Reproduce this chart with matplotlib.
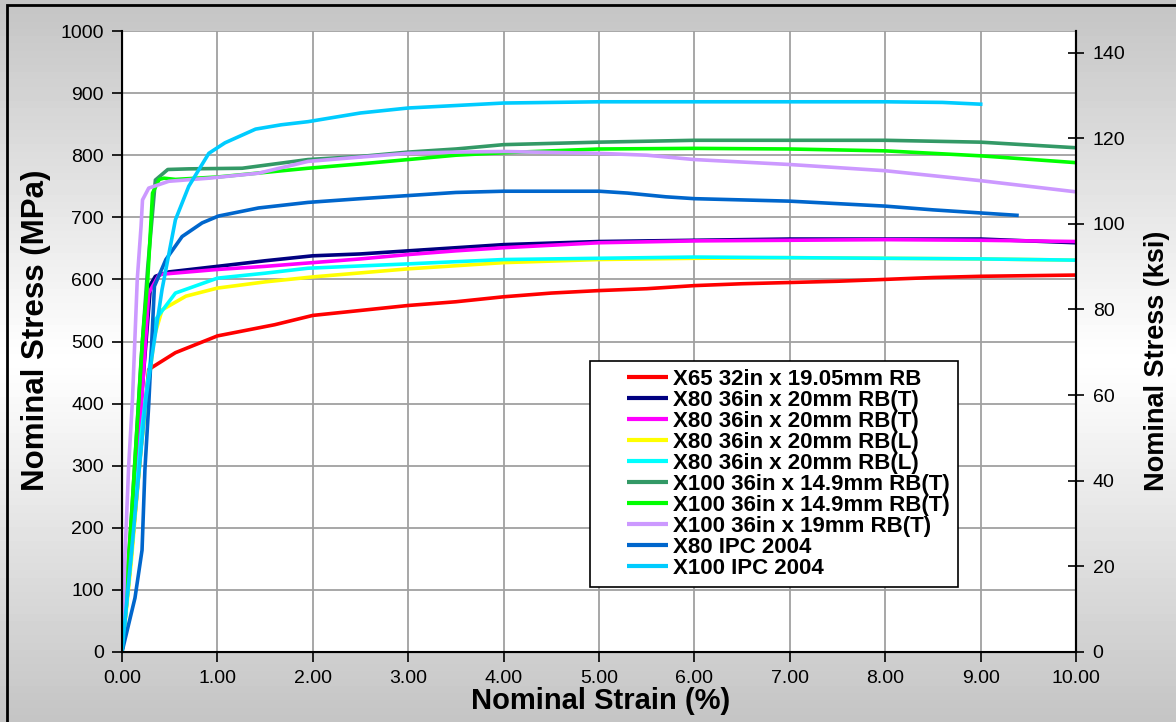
import numpy as np
import matplotlib
matplotlib.use("Agg")
from matplotlib import pyplot as plt
from matplotlib.patches import Rectangle
from matplotlib.legend_handler import HandlerLine2D

plt.rcParams["font.family"] = ["Liberation Sans", "DejaVu Sans"]

# strain (%) / stress (MPa)
x65_strain = [0, 0.1, 0.2, 0.28, 0.56, 1.0, 1.6, 2.0, 2.5, 3.0, 3.5, 4.0, 4.5, 5.0, 5.5, 6.0,
              6.5, 7.0, 7.5, 8.0, 8.5, 9.0, 9.5, 10.0]
x65_stress = [0, 160, 330, 455, 482, 509, 527, 542, 550, 558, 564, 572, 578, 582, 585, 590,
              593, 595, 597, 600, 603, 605, 606, 607]

x80t_a_strain = [0, 0.1, 0.2, 0.3, 0.35, 0.49, 1.0, 1.5, 2.0, 2.5, 3.0, 3.5, 4.0, 5.0, 6.0, 7.0,
                 8.0, 9.0, 10.0]
x80t_a_stress = [0, 180, 400, 592, 605, 612, 621, 630, 638, 641, 646, 651, 656, 661, 663, 665,
                 665, 665, 659]

x80t_b_strain = [0, 0.1, 0.2, 0.28, 0.39, 1.0, 1.5, 2.0, 2.5, 3.0, 3.5, 4.0, 5.0, 6.0, 7.0, 8.0,
                 9.0, 10.0]
x80t_b_stress = [0, 170, 390, 578, 608, 616, 621, 627, 633, 640, 646, 651, 659, 662, 663, 664,
                 663, 661]

x80l_a_strain = [0, 0.1, 0.2, 0.34, 0.42, 0.67, 1.0, 1.5, 2.0, 3.0, 4.0, 5.0, 6.0, 7.0, 8.0, 9.0,
                 10.0]
x80l_a_stress = [0, 150, 330, 509, 551, 573, 586, 596, 604, 617, 627, 632, 634, 635, 634, 633,
                 631]

x80l_b_strain = [0, 0.1, 0.2, 0.35, 0.56, 1.0, 1.5, 1.95, 3.0, 4.0, 5.0, 6.0, 7.0, 8.0, 9.0, 10.0]
x80l_b_stress = [0, 160, 350, 535, 578, 602, 610, 618, 625, 632, 634, 636, 635, 634, 633, 631]

x100_149a_strain = [0, 0.1, 0.2, 0.27, 0.35, 0.48, 0.7, 1.26, 1.95, 2.5, 3.0, 3.5, 4.0, 5.0, 6.0,
                    7.0, 8.0, 9.0, 10.0]
x100_149a_stress = [0, 220, 470, 620, 760, 777, 778, 779, 793, 798, 805, 810, 817, 821, 824,
                    824, 824, 821, 812]

x100_149b_strain = [0, 0.1, 0.215, 0.27, 0.32, 0.39, 0.44, 0.56, 1.01, 1.95, 2.5, 3.0, 3.5, 4.0,
                    5.0, 6.0, 7.0, 8.0, 9.0, 10.0]
x100_149b_stress = [0, 220, 503, 600, 739, 761, 763, 761, 765, 779, 786, 793, 800, 804, 810,
                    811, 810, 807, 799, 788]

x100_19_strain = [0, 0.03, 0.07, 0.11, 0.16, 0.2, 0.215, 0.28, 0.49, 0.91, 1.43, 1.95, 2.5, 3.0,
                  3.5, 4.0, 5.0, 5.5, 6.0, 7.0, 8.0, 9.0, 10.0]
x100_19_stress = [0, 150, 300, 407, 600, 686, 728, 747, 758, 763, 771, 790, 797, 803, 805, 806,
                  803, 800, 793, 785, 775, 759, 741]

x80ipc_strain = [0, 0.136, 0.21, 0.24, 0.28, 0.34, 0.46, 0.63, 0.84, 1.01, 1.43, 1.95, 2.5, 3.0,
                 3.5, 4.0, 5.0, 5.3, 5.7, 6.0, 7.0, 8.0, 8.5, 9.0, 9.4]
x80ipc_stress = [0, 87, 164, 293, 398, 589, 632, 669, 691, 702, 715, 724, 730, 735, 740, 742,
                 742, 739, 733, 730, 726, 718, 712, 707, 703]

x100ipc_strain = [0, 0.25, 0.32, 0.42, 0.56, 0.7, 0.91, 1.08, 1.4, 1.67, 1.95, 2.5, 3.0, 3.5, 4.0,
                  5.0, 6.0, 7.0, 8.0, 8.6, 9.02]
x100ipc_stress = [0, 407, 482, 584, 696, 750, 803, 820, 842, 849, 854, 868, 876, 880, 884, 886,
                  886, 886, 886, 885, 882]

series = [
    (x65_strain, x65_stress, "#ff0000", "X65 32in x 19.05mm RB"),
    (x80t_a_strain, x80t_a_stress, "#000080", "X80 36in x 20mm RB(T)"),
    (x80t_b_strain, x80t_b_stress, "#ff00ff", "X80 36in x 20mm RB(T)"),
    (x80l_a_strain, x80l_a_stress, "#ffff00", "X80 36in x 20mm RB(L)"),
    (x80l_b_strain, x80l_b_stress, "#00ffff", "X80 36in x 20mm RB(L)"),
    (x100_149a_strain, x100_149a_stress, "#339966", "X100 36in x 14.9mm RB(T)"),
    (x100_149b_strain, x100_149b_stress, "#00ff00", "X100 36in x 14.9mm RB(T)"),
    (x100_19_strain, x100_19_stress, "#cc99ff", "X100 36in x 19mm RB(T)"),
    (x80ipc_strain, x80ipc_stress, "#0066cc", "X80 IPC 2004"),
    (x100ipc_strain, x100ipc_stress, "#00ccff", "X100 IPC 2004"),
]

MPA_PER_KSI = 6.894757

fig = plt.figure(figsize=(11.76, 7.22), dpi=100)

# grey-white-grey background gradient
bg = fig.add_axes([0, 0, 1, 1], zorder=-10)
grad = np.concatenate([np.linspace(0.77, 1.0, 50), np.linspace(1.0, 0.77, 50)])
bg.imshow(np.tile(grad[:, None], (1, 2)), cmap="gray", vmin=0, vmax=1, aspect="auto",
          extent=[0, 1, 0, 1])
bg.set_axis_off()
fig.add_artist(Rectangle((7 / 1176, -0.1), 1.2, 1.1 - 5 / 722, transform=fig.transFigure,
                         fill=False, edgecolor="black", linewidth=2))

ax = fig.add_axes([122 / 1176, 1 - 652 / 722, 954 / 1176, 621 / 722])
ax.set_facecolor("white")
lines = []
for x, y, c, label in series:
    ln, = ax.plot(x, y, color=c, linewidth=2.6, label=label, solid_capstyle="butt")
    lines.append(ln)

ax.set_xlim(0, 10)
ax.set_ylim(0, 1000)
ax.set_xticks(np.arange(0, 10.01, 1))
ax.set_xticklabels([f"{v:.2f}" for v in np.arange(0, 10.01, 1)])
ax.set_yticks(np.arange(0, 1001, 100))
ax.grid(True, color="#a0a0a0", linewidth=1.3)
ax.tick_params(labelsize=14, length=7, width=1.2, direction="out", pad=6)
ax.spines["top"].set_visible(False)
for s in ["left", "bottom", "right"]:
    ax.spines[s].set_linewidth(1.5)

ax2 = ax.twinx()
ax2.set_ylim(0, 1000 / MPA_PER_KSI)
ax2.set_yticks(np.arange(0, 141, 20))
ax2.tick_params(labelsize=14, length=12, width=1.2, direction="inout", pad=6)
ax2.spines["top"].set_visible(False)
ax2.spines["right"].set_linewidth(1.5)

# axis titles placed where the reference has them
fig.text(601 / 1176, 1 - 701 / 722, "Nominal Strain (%)", fontsize=21, fontweight="bold",
         ha="center", va="center")
fig.text(36 / 1176, 1 - 330 / 722, "Nominal Stress (MPa)", fontsize=22.5, fontweight="bold",
         ha="center", va="center", rotation=90)
fig.text(1157 / 1176, 1 - 361 / 722, "Nominal Stress (ksi)", fontsize=19.5, fontweight="bold",
         ha="center", va="center", rotation=90)

# legend: handle inset from the left edge like the reference
leg = ax.legend(handles=lines, loc="upper left",
                bbox_to_anchor=((590 - 122) / 954, (652 - 361) / 621),
                prop={"size": 16, "weight": "bold"},
                handler_map={ln: HandlerLine2D(xpad=1.33) for ln in lines},
                frameon=True, fancybox=False, framealpha=1, edgecolor="black",
                handlelength=3.18, handletextpad=0.22, labelspacing=0.0, borderpad=0.35,
                borderaxespad=0)
leg.get_frame().set_linewidth(1.2)
for line in leg.get_lines():
    line.set_linewidth(3)

plt.savefig("out.png", dpi=100)
